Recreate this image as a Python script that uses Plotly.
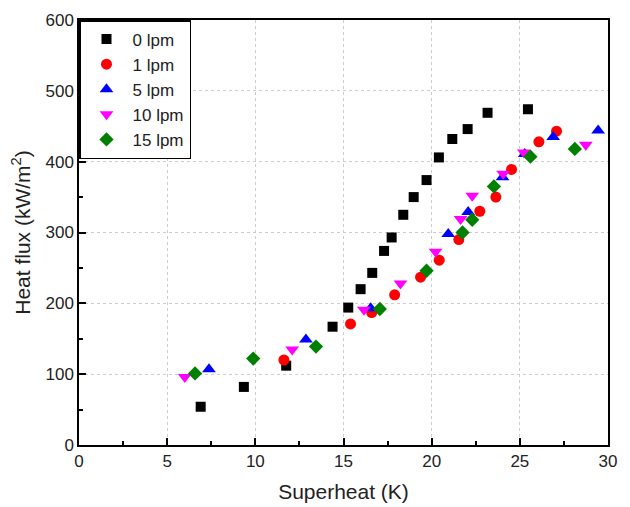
import plotly.graph_objects as go

x0 = [6.9, 9.35, 11.75, 14.38, 15.27, 15.97, 16.63, 17.3, 17.73, 18.39, 18.98, 19.71, 20.41, 21.17, 22.04, 23.17, 25.46]
y0 = [54, 82, 112, 167, 194, 220, 243, 274, 293, 325, 350, 374, 406, 432, 446, 469, 474]

x1 = [11.62, 15.4, 16.6, 17.9, 19.37, 20.43, 21.54, 22.73, 23.64, 24.53, 26.08, 27.08]
y1 = [120, 171, 187, 212, 237, 261, 290, 330, 350, 389, 428, 443]

x5 = [7.37, 12.87, 16.54, 20.94, 22.07, 24.02, 25.28, 26.89, 29.44]
y5 = [107, 149, 193, 298, 329, 378, 411, 435, 444]

x10 = [6.0, 12.09, 16.16, 18.23, 20.22, 21.64, 22.3, 24.05, 25.23, 28.74]
y10 = [96, 135, 191, 228, 273, 319, 352, 383, 413, 424]

x15 = [6.58, 9.88, 13.44, 17.06, 19.71, 21.75, 22.3, 23.53, 25.6, 28.12]
y15 = [101, 122, 139, 192, 246, 300, 318, 365, 407, 418]

series = [
    ("0 lpm", x0, y0, "square", "black", 10),
    ("1 lpm", x1, y1, "circle", "red", 11),
    ("5 lpm", x5, y5, "triangle-up", "blue", 12),
    ("10 lpm", x10, y10, "triangle-down", "magenta", 12),
    ("15 lpm", x15, y15, "diamond", "green", 11),
]

fig = go.Figure()
for name, xs, ys, sym, col, sz in series:
    fig.add_trace(go.Scatter(x=xs, y=ys, mode="markers", name=name,
                             marker=dict(symbol=sym, color=col, size=sz, line=dict(width=0))))

font = "Liberation Sans, Arial, sans-serif"
axis_common = dict(
    showline=True, linecolor="black", linewidth=1.5, mirror=True,
    ticks="inside", ticklen=7, tickwidth=1.5, tickcolor="black",
    showgrid=True, gridcolor="#cccccc", griddash="dot", gridwidth=1,
    zeroline=False, automargin=False,
    tickfont=dict(family=font, size=17, color="#222"),
    title_font=dict(family=font, size=21, color="#222"),
)

fig.update_xaxes(range=[0, 30], dtick=5, title_text="Superheat (K)",
                 minor=dict(ticks="inside", ticklen=4, dtick=2.5, tickcolor="black", showgrid=False),
                 title_standoff=14, **axis_common)
fig.update_yaxes(range=[0, 600], dtick=100, title_text="Heat flux (kW/m<sup>2</sup>)",
                 minor=dict(ticks="inside", ticklen=4, dtick=50, tickcolor="black", showgrid=False),
                 title_standoff=10, **axis_common)

# page body has an 8px default margin, so the figure is sized to fit the 630x507 window
fig.update_layout(
    width=622, height=499,
    margin=dict(l=71, r=22, t=12, b=62),
    paper_bgcolor="white", plot_bgcolor="white",
    font=dict(family=font, color="#222"),
    legend=dict(x=0, y=1, xanchor="left", yanchor="top",
                bordercolor="black", borderwidth=1.5, bgcolor="white",
                font=dict(family=font, size=17, color="#222"),
                itemwidth=42),
)

fig.write_html("out.html")
